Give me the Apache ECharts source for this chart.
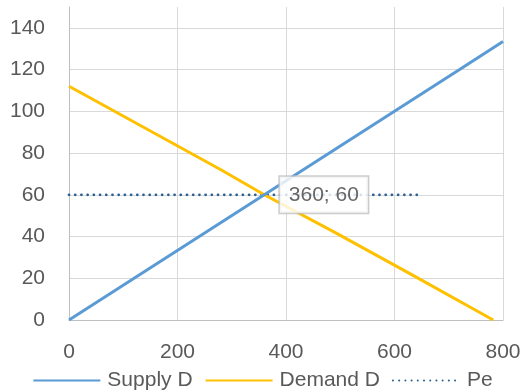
<!DOCTYPE html>
<html><head><meta charset="utf-8">
<script src="https://cdn.jsdelivr.net/npm/echarts@6/dist/echarts.min.js"></script>
<style>html,body{margin:0;padding:0;background:#fff}#c{width:525px;height:391px}</style>
</head><body><div id="c"></div>
<script>
const xTicks = [0, 200, 400, 600, 800];
const yTicks = [0, 20, 40, 60, 80, 100, 120, 140];
const supplyX = [0, 120, 240, 360, 480, 600, 720, 800];
const supplyY = [0, 20, 40, 60, 80, 100, 120, 133.5];
const demandX = [0, 140, 280, 360, 490, 630, 782];
const demandY = [112, 92, 72, 60, 42, 22, 0];
const peX = [0, 650];
const peY = [60, 60];
const eqX = [360];
const eqY = [60];
const seriesNames = ['Supply D', 'Demand D', 'Pe'];

const zip = (a, b) => a.map((v, i) => [v, b[i]]);
const font = 'Liberation Sans, Arial, sans-serif';
const fs = 21;
const chart = echarts.init(document.getElementById('c'));
chart.setOption({
  animation: false,
  grid: { left: 69, right: 22, top: 7, bottom: 71 },
  legend: {
    top: 365, left: 'center', itemWidth: 67, itemHeight: 10, itemGap: 12,
    data: seriesNames,
    itemStyle: { opacity: 0 },
    textStyle: { fontFamily: font, fontSize: fs, color: '#595959', padding: [0, 0, 0, 2] }
  },
  xAxis: {
    type: 'value', min: xTicks[0], max: xTicks[xTicks.length - 1], interval: 200,
    axisLine: { show: true, lineStyle: { color: '#bfbfbf', width: 1 } },
    axisTick: { show: false },
    splitLine: { show: true, lineStyle: { color: '#d9d9d9', width: 1 } },
    axisLabel: { fontFamily: font, fontSize: fs, color: '#595959', margin: 22 }
  },
  yAxis: {
    type: 'value', min: yTicks[0], max: 150, interval: 20,
    axisLine: { show: true, lineStyle: { color: '#bfbfbf', width: 1 } },
    axisTick: { show: false },
    splitLine: { show: true, lineStyle: { color: ['#d9d9d9','#d9d9d9','#d9d9d9','#d9d9d9','#d9d9d9','#d9d9d9','#d9d9d9','#d9d9d9','rgba(0,0,0,0)'], width: 1 } },
    axisLabel: { fontFamily: font, fontSize: fs, color: '#595959', margin: 24, showMaxLabel: false }
  },
  series: [
    { name: seriesNames[0], type: 'line', data: zip(supplyX, supplyY), symbol: 'none',
      lineStyle: { color: '#5B9BD5', width: 3 }, itemStyle: { color: '#5B9BD5' }, z: 3 },
    { name: seriesNames[1], type: 'line', data: zip(demandX, demandY), symbol: 'none',
      lineStyle: { color: '#FFC000', width: 3 }, itemStyle: { color: '#FFC000' }, z: 2 },
    { name: seriesNames[2], type: 'line', data: zip(peX, peY), symbol: 'none',
      lineStyle: { color: '#2A5F93', width: 2.8, type: [0.01, 6.2], cap: 'round' }, itemStyle: { color: '#2A5F93' }, z: 1 },
    { name: 'eq', type: 'scatter', data: zip(eqX, eqY), symbolSize: 1, itemStyle: { color: 'rgba(0,0,0,0)' }, z: 5,
      label: { show: true, position: 'right', distance: 15, formatter: p => p.value[0] + '; ' + p.value[1],
        fontFamily: font, fontSize: fs, color: '#404040', backgroundColor: '#fff',
        borderColor: '#bfbfbf', borderWidth: 1.5, padding: [8, 9, 7, 9] } }
  ]
});
</script></body></html>
